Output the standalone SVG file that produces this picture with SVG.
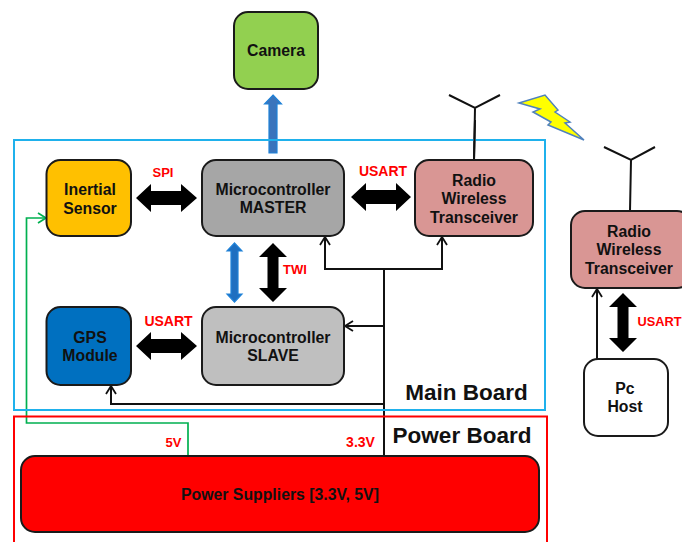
<svg xmlns="http://www.w3.org/2000/svg" width="682" height="542" viewBox="0 0 682 542">
<style>
text{font-family:"Liberation Sans",Arial,sans-serif;font-weight:700;text-anchor:middle}
.n{stroke:#1a1a1a;stroke-width:2}
.t{font-size:15.800px;fill:#111}
.l{font-size:13px;fill:#f00}
.w{fill:none;stroke:#111;stroke-width:2}
.g{fill:none;stroke:#00b050;stroke-width:1.7}
.b{fill:#000}
.u{fill:#3a74bc;stroke:#1f82d8;stroke-width:1.200}
</style>
<defs>
<marker id="a" markerUnits="userSpaceOnUse" markerWidth="12" markerHeight="12" refX="10" refY="6" orient="auto"><path d="M2 1L10 6L2 11" fill="none" stroke="#111" stroke-width="1.8"/></marker>
<marker id="ag" markerUnits="userSpaceOnUse" markerWidth="12" markerHeight="12" refX="10" refY="6" orient="auto"><path d="M2 1L10 6L2 11" fill="none" stroke="#00b050" stroke-width="1.7"/></marker>
</defs>
<g id="connectors">
<path class="g" d="M188 456V423H26.500V218H46" marker-end="url(#ag)"/>
<path class="w" d="M384 456V269" />
<path class="w" d="M326 269H442V237" marker-end="url(#a)"/>
<path class="w" d="M384 269H325V237" marker-end="url(#a)"/>
<path class="w" d="M384 326H345" marker-end="url(#a)"/>
<path class="w" d="M384 404H111V386" marker-end="url(#a)"/>
<path class="w" d="M597 359V289" marker-end="url(#a)"/>
<path class="w" d="M474 160L475 108M449 95L475 108L500 95"/>
<path class="w" d="M630 211L631 160M604 147L631 160L655 147"/>
<path class="b" d="M136 198L151 184V191H181V184L197 198L181 212V205H151V212Z"/>
<path class="b" d="M351 197L366 183V190H396V183L411 197L396 211V204H366V211Z"/>
<path class="b" d="M136 346L151 332V339H181V332L197 346L181 360V353H151V360Z"/>
<path class="b" d="M273 243L287 257H278.500V288H287L273 302L259 288H267.500V257H259Z"/>
<path class="b" d="M623 293L637 307H628.500V338H637L623 352L609 338H617.500V307H609Z"/>
<path class="u" d="M234.500 243L242 251H238V294H242L234.500 302L227 294H231V251H227Z" style="fill:#1f6fc0"/>
<path class="u" d="M273 95L281.500 104H277V153H269V104H264.500Z"/>
<path d="M519 103L545 95L558 110L555 112L570 122L565 123L584 140L548 125L551 122L533 112L540 109Z" fill="#ff0" stroke="#4f81bd" stroke-width="1.500"/>
</g>
<rect id="main-board" x="14" y="140" width="531" height="270" fill="none" stroke="#1fb1ec" stroke-width="2"/>
<path id="power-board" d="M14 542V416.500H547V542" fill="none" stroke="#f00" stroke-width="2"/>
<text x="466.500" y="400" font-size="22.500" fill="#111">Main Board</text>
<text x="462" y="443" font-size="22.500" fill="#111">Power Board</text>
<path class="w" d="M474 160L475 120"/>
<g id="camera"><rect class="n" x="234" y="12" width="84" height="77" rx="14" fill="#92d050"/><text class="t" x="276" y="56">Camera</text></g>
<g id="inertial"><rect class="n" x="46.500" y="160" width="84.500" height="76" rx="14" fill="#ffc000"/><text class="t" x="90" y="195">Inertial</text><text class="t" x="90" y="214">Sensor</text></g>
<g id="master"><rect class="n" x="202" y="160" width="142" height="76" rx="14" fill="#a6a6a6"/><text class="t" x="273" y="195">Microcontroller</text><text class="t" x="273" y="213">MASTER</text></g>
<g id="radio1"><rect class="n" x="415" y="160" width="118" height="76" rx="14" fill="#d99694"/><text class="t" x="474" y="186">Radio</text><text class="t" x="474" y="204">Wireless</text><text class="t" x="474" y="223">Transceiver</text></g>
<g id="gps"><rect class="n" x="46.500" y="307" width="84.500" height="78" rx="14" fill="#0070c0"/><text class="t" x="90" y="343">GPS</text><text class="t" x="90" y="361">Module</text></g>
<g id="slave"><rect class="n" x="202" y="307" width="142" height="78" rx="14" fill="#bfbfbf"/><text class="t" x="273" y="343">Microcontroller</text><text class="t" x="273" y="361">SLAVE</text></g>
<g id="radio2"><rect class="n" x="571" y="211" width="120" height="77" rx="14" fill="#d99694"/><text class="t" x="629" y="237">Radio</text><text class="t" x="629" y="255">Wireless</text><text class="t" x="629" y="274">Transceiver</text></g>
<g id="pc"><rect class="n" x="584" y="359" width="84" height="77" rx="14" fill="#fff"/><text class="t" x="625" y="394">Pc</text><text class="t" x="625" y="412">Host</text></g>
<g id="power"><rect class="n" x="21" y="456" width="518" height="76" rx="14" fill="#f00"/><text class="t" x="280" y="500">Power Suppliers [3.3V, 5V]</text></g>
<text class="l" x="163" y="177">SPI</text>
<text class="l" x="383" y="176" style="font-size:14px">USART</text>
<text class="l" x="295" y="274">TWI</text>
<text class="l" x="168.500" y="326" style="font-size:14px">USART</text>
<text class="l" x="659.500" y="326" style="font-size:12.800px">USART</text>
<text class="l" x="173.500" y="447">5V</text>
<text class="l" x="360.500" y="447" style="font-size:14px">3.3V</text>
</svg>
